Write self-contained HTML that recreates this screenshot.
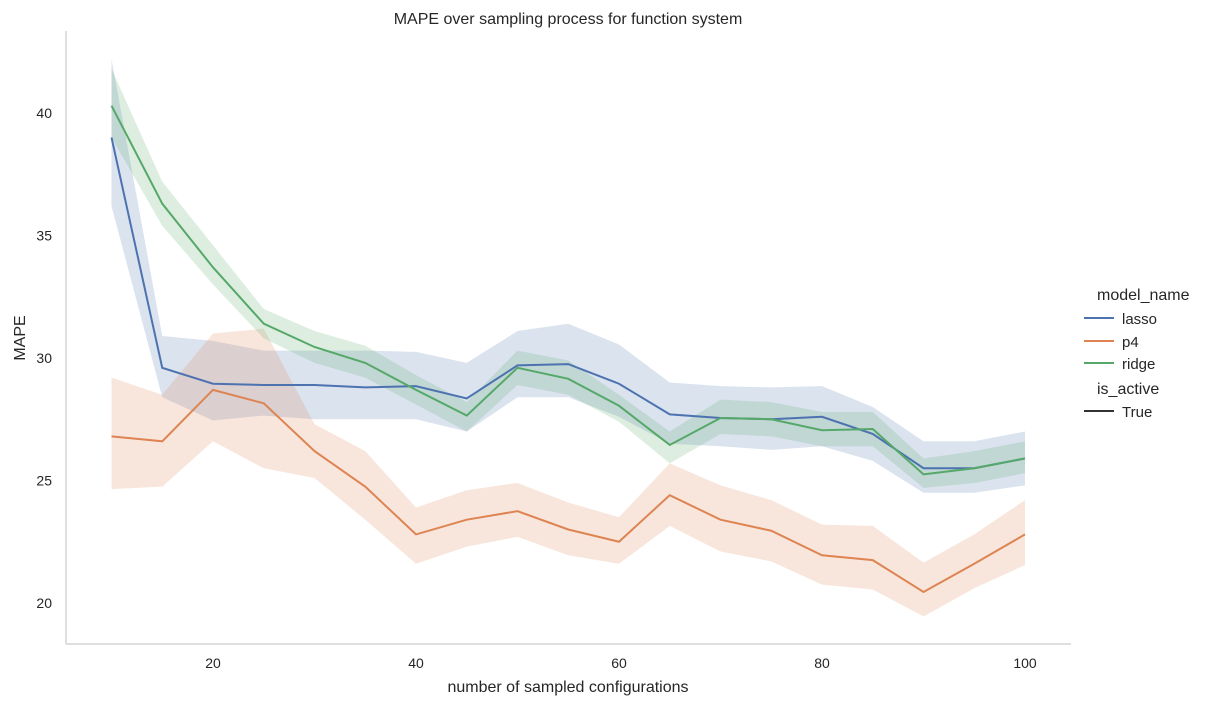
<!DOCTYPE html>
<html><head><meta charset="utf-8"><style>
html,body{margin:0;padding:0;background:#fff;}
svg{display:block;font-family:"Liberation Sans","DejaVu Sans",sans-serif;}
</style></head><body>
<svg id="chart" width="1217" height="706" viewBox="0 0 1217 706">
<text x="568" y="24" text-anchor="middle" font-size="16" fill="#262626">MAPE over sampling process for function system</text>
<g id="bands"></g><g id="lines"></g>
<line x1="66" y1="31" x2="66" y2="644" stroke="#ccc" stroke-width="1.25"/>
<line x1="66" y1="644" x2="1071" y2="644" stroke="#ccc" stroke-width="1.25"/>
<g id="xticks"></g><g id="yticks"></g>
<text x="568" y="692" text-anchor="middle" font-size="16" fill="#262626">number of sampled configurations</text>
<text transform="translate(25,338) rotate(-90)" text-anchor="middle" font-size="16" fill="#262626">MAPE</text>
<g font-size="15" fill="#262626">
<text x="1097" y="300" font-size="16">model_name</text>
<line x1="1084" y1="318" x2="1114" y2="318" stroke="#4c72b0" stroke-width="2"/>
<text x="1122" y="324">lasso</text>
<line x1="1084" y1="341" x2="1114" y2="341" stroke="#dd8452" stroke-width="2"/>
<text x="1122" y="347">p4</text>
<line x1="1084" y1="363" x2="1114" y2="363" stroke="#55a868" stroke-width="2"/>
<text x="1122" y="369">ridge</text>
<text x="1097" y="394" font-size="16">is_active</text>
<line x1="1084" y1="411" x2="1114" y2="411" stroke="#333" stroke-width="2"/>
<text x="1122" y="417">True</text>
</g>
</svg>
<script>
const xs=[10,15,20,25,30,35,40,45,50,55,60,65,70,75,80,85,90,95,100];
const lassoMean=[39.0,29.6,28.95,28.9,28.9,28.8,28.85,28.35,29.7,29.75,28.95,27.7,27.55,27.5,27.6,26.9,25.5,25.5,25.9];
const lassoHi=[42.2,30.9,30.7,30.3,30.3,30.3,30.25,29.8,31.1,31.4,30.55,29.0,28.85,28.8,28.85,28.0,26.6,26.6,27.0];
const lassoLo=[36.2,28.4,27.45,27.65,27.5,27.5,27.5,27.0,28.4,28.4,27.6,26.5,26.4,26.25,26.4,25.8,24.5,24.5,24.8];
const p4Mean=[26.8,26.6,28.7,28.15,26.2,24.75,22.8,23.4,23.75,23.0,22.5,24.4,23.4,22.95,21.95,21.75,20.45,21.6,22.8];
const p4Hi=[29.2,28.5,31.0,31.2,27.3,26.2,23.9,24.6,24.9,24.1,23.5,25.7,24.8,24.2,23.2,23.15,21.65,22.8,24.2];
const p4Lo=[24.65,24.75,26.6,25.5,25.1,23.4,21.6,22.3,22.7,21.95,21.6,23.15,22.1,21.7,20.75,20.55,19.45,20.6,21.55];
const ridgeMean=[40.3,36.3,33.7,31.4,30.45,29.8,28.7,27.65,29.6,29.15,28.05,26.45,27.55,27.5,27.05,27.1,25.25,25.5,25.9];
const ridgeHi=[41.8,37.2,34.6,32.0,31.1,30.5,29.3,28.2,30.3,29.9,28.5,27.0,28.3,28.2,27.8,27.8,25.9,26.2,26.6];
const ridgeLo=[39.0,35.4,33.0,30.8,29.8,29.2,28.1,27.0,28.9,28.5,27.4,25.7,26.9,26.8,26.4,26.4,24.7,24.9,25.3];
const xTicks=[20,40,60,80,100];
const yTicks=[20,25,30,35,40];
const X=v=>213+(v-20)*10.15;
const Y=v=>603-(v-20)*24.5;
const NS="http://www.w3.org/2000/svg";
const series=[["lasso","#4c72b0",lassoMean,lassoHi,lassoLo],["p4","#dd8452",p4Mean,p4Hi,p4Lo],["ridge","#55a868",ridgeMean,ridgeHi,ridgeLo]];
const bands=document.getElementById('bands'),lines=document.getElementById('lines');
series.forEach(([n,c,m,h,l])=>{
  const b=document.createElementNS(NS,'path');
  let d=xs.map((x,i)=>(i?'L':'M')+X(x)+','+Y(h[i])).join('');
  for(let i=xs.length-1;i>=0;i--)d+='L'+X(xs[i])+','+Y(l[i]);
  b.setAttribute('d',d+'Z');b.setAttribute('fill',c);b.setAttribute('fill-opacity','0.2');
  
  
  bands.appendChild(b);
  const p=document.createElementNS(NS,'path');
  p.setAttribute('d',xs.map((x,i)=>(i?'L':'M')+X(x)+','+Y(m[i])).join(''));
  p.setAttribute('fill','none');p.setAttribute('stroke',c);p.setAttribute('stroke-width','2');
  
  
  lines.appendChild(p);
});
const xt=document.getElementById('xticks');
xTicks.forEach(v=>{const t=document.createElementNS(NS,'text');t.setAttribute('x',X(v));t.setAttribute('y',668);t.setAttribute('text-anchor','middle');t.setAttribute('font-size','14');t.setAttribute('fill','#262626');t.textContent=v;


xt.appendChild(t);});
const yt=document.getElementById('yticks');
yTicks.forEach(v=>{const t=document.createElementNS(NS,'text');t.setAttribute('x',52);t.setAttribute('y',Y(v)+5);t.setAttribute('text-anchor','end');t.setAttribute('font-size','14');t.setAttribute('fill','#262626');t.textContent=v;


yt.appendChild(t);});
</script>
</body></html>
